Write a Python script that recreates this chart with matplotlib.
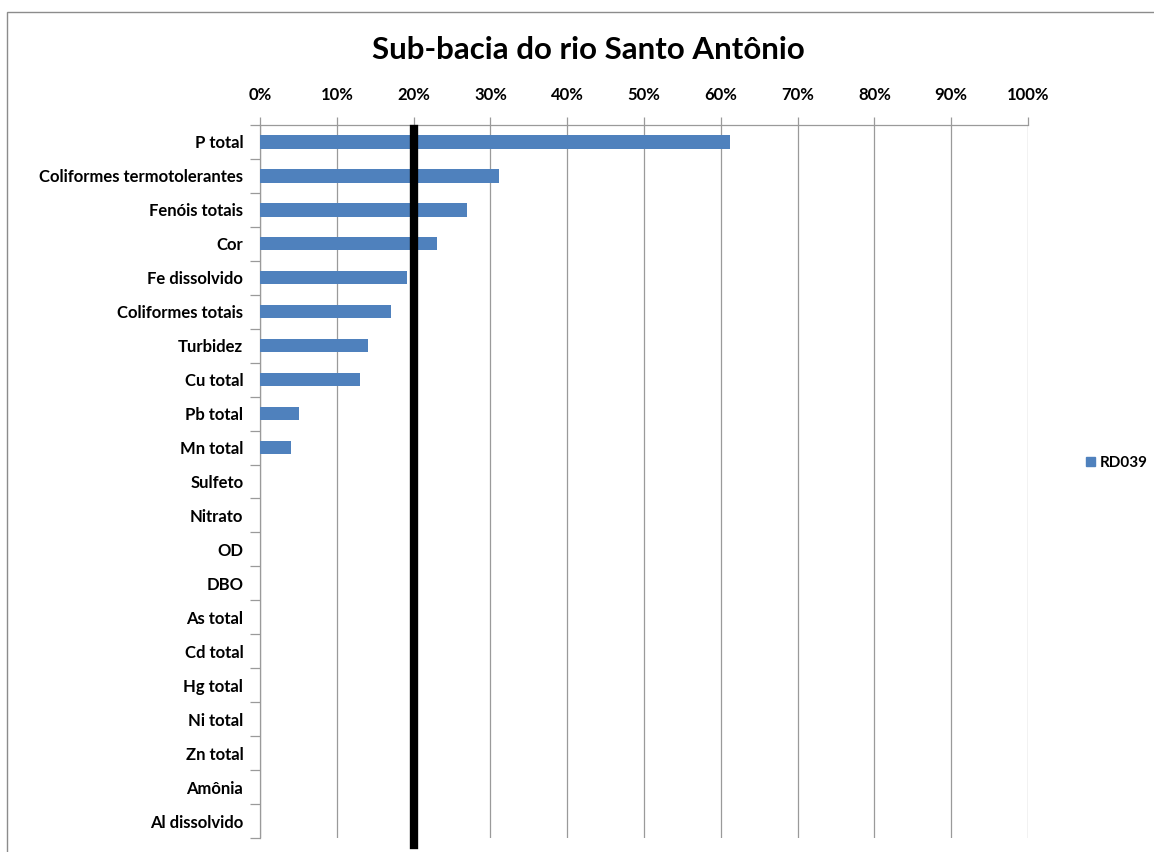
import matplotlib
matplotlib.use("Agg")
import matplotlib.pyplot as plt
from matplotlib.patches import Rectangle, Patch
from matplotlib.ticker import FuncFormatter, MultipleLocator

categories = ["P total", "Coliformes termotolerantes", "Fenóis totais", "Cor",
              "Fe dissolvido", "Coliformes totais", "Turbidez", "Cu total",
              "Pb total", "Mn total", "Sulfeto", "Nitrato", "OD", "DBO",
              "As total", "Cd total", "Hg total", "Ni total", "Zn total",
              "Amônia", "Al dissolvido"]
values = [61.2, 31.1, 27.0, 23.0, 19.1, 17.0, 14.0, 13.0, 5.1, 4.0,
          0, 0, 0, 0, 0, 0, 0, 0, 0, 0, 0]
series_name = "RD039"
reference_line = 20
title = "Sub-bacia do rio Santo Antônio"

plt.rcParams['font.family'] = ['Lato', 'DejaVu Sans']

W, H = 1154, 852
fig = plt.figure(figsize=(W / 100, H / 100), dpi=100)
fig.patch.set_facecolor("white")

# outer chart border
fig.patches.append(Rectangle((7 / W, -0.1), 1.2, 1 - 12 / H + 0.1,
                             transform=fig.transFigure, fill=False,
                             edgecolor="#8c8c8c", linewidth=1.0))

ax = fig.add_axes([260 / W, 1 - 838 / H, (1028 - 260) / W, (838 - 125) / H])
y = list(range(len(categories)))
ax.barh(y, values, height=0.39, color="#4F81BD", zorder=3)
ax.set_ylim(len(categories) - 0.5, -0.5)
ax.set_xlim(0, 100)

ax.xaxis.set_major_locator(MultipleLocator(10))
ax.xaxis.set_major_formatter(FuncFormatter(lambda v, p: f"{int(round(v))}%"))
ax.xaxis.tick_top()
ax.grid(axis="x", color="#9a9a9a", linewidth=0.9, zorder=0)
ax.tick_params(axis="x", direction="out", length=6, width=0.9, color="#9a9a9a",
               pad=10, labelsize=12)
for lab in ax.get_xticklabels():
    lab.set_fontweight("bold")

ax.set_yticks(y)
ax.set_yticklabels(categories, fontsize=12, fontweight="bold")
ax.set_yticks([i - 0.5 for i in range(len(categories) + 1)], minor=True)
ax.tick_params(axis="y", which="major", length=0, pad=12)
ax.tick_params(axis="y", which="minor", direction="out", length=7, width=0.9,
               color="#9a9a9a")

for s in ["right", "bottom"]:
    ax.spines[s].set_visible(False)
for s in ["top", "left"]:
    ax.spines[s].set_color("#9a9a9a")
    ax.spines[s].set_linewidth(0.9)

ax.axvline(reference_line, ymin=-0.01, ymax=0.994, color="black",
           linewidth=6, zorder=4, clip_on=False)

fig.text(588 / W, 1 - 50 / H, title, fontsize=22.5, fontweight="bold",
         ha="center", va="center")

leg = fig.legend(handles=[Patch(color="#4F81BD", label=series_name)],
                 loc="center left", bbox_to_anchor=(1086 / W, 1 - 463 / H),
                 frameon=False, handlelength=0.6, handleheight=0.6,
                 handletextpad=0.3, borderpad=0, borderaxespad=0,
                 prop={"weight": "bold", "size": 11})

fig.savefig("out.png", dpi=100)
